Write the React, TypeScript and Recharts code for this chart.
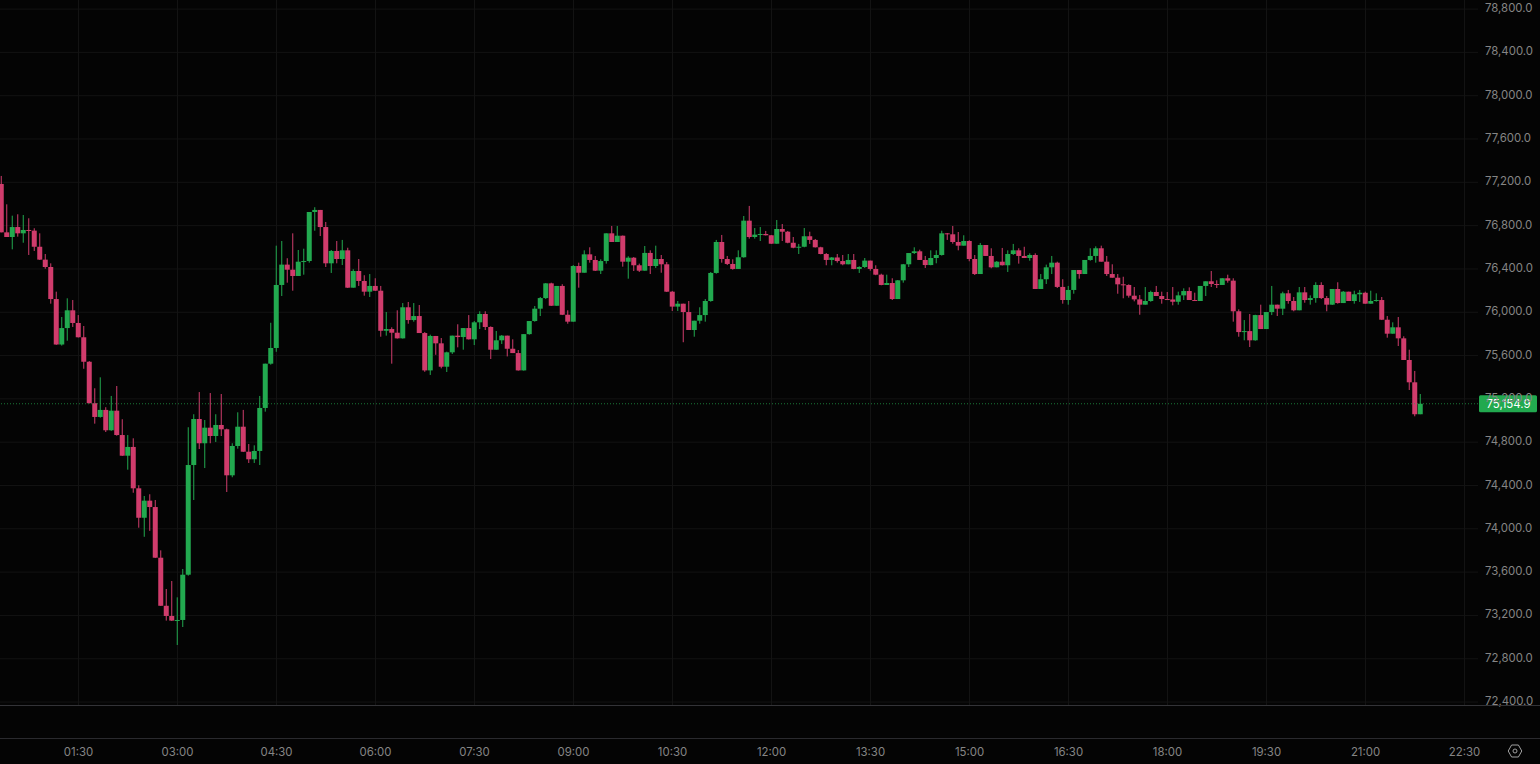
import React from 'react';
import { ComposedChart, Bar, XAxis, YAxis, CartesianGrid, ReferenceLine } from 'recharts';

const CHART_W = 1540;
const CHART_H = 764;
const UP = '#22a94f';
const DOWN = '#d03c6c';
const TEXT = '#858585';
const GRID = '#131313';
const FONT = 'Inter, "Noto Sans", sans-serif';

const firstOpen = 77185;
const startMinute = 20;
const barMinutes = 5;
const lastPrice = 75154.9;

const closes = [
  76738, 76695, 76787, 76729, 76760, 76754, 76605, 76486, 76418, 76122, 75702, 75854, 76018, 75901, 75769, 75543, 75160, 75033, 75098, 74910,
  75091, 74866, 74675, 74756, 74374, 74102, 74260, 74201, 73733, 73289, 73195, 73152, 73158, 73576, 74589, 75014, 74790, 74934, 74857, 74959,
  74919, 74494, 74765, 74943, 74712, 74642, 74719, 75116, 75525, 75670, 76252, 76440, 76393, 76335, 76467, 76473, 76926, 76945, 76787, 76452,
  76566, 76492, 76572, 76227, 76381, 76289, 76190, 76243, 76199, 75829, 75845, 75811, 75759, 76046, 75928, 75965, 75808, 75463, 75781, 75713,
  75497, 75630, 75784, 75771, 75854, 75750, 75907, 75984, 75864, 75654, 75741, 75784, 75663, 75623, 75463, 75798, 75919, 76033, 76131, 76267,
  76060, 76243, 75977, 75913, 76427, 76365, 76535, 76483, 76384, 76473, 76729, 76649, 76707, 76467, 76504, 76434, 76384, 76548, 76427, 76492,
  76443, 76190, 76052, 76079, 76002, 75836, 75922, 75974, 76104, 76363, 76649, 76492, 76446, 76400, 76508, 76846, 76695, 76717, 76723, 76711,
  76633, 76769, 76744, 76642, 76596, 76605, 76702, 76668, 76600, 76538, 76483, 76506, 76473, 76443, 76483, 76400, 76418, 76477, 76400, 76347,
  76252, 76270, 76122, 76295, 76443, 76547, 76563, 76483, 76436, 76501, 76529, 76729, 76720, 76649, 76615, 76658, 76492, 76353, 76621, 76520,
  76415, 76467, 76434, 76538, 76572, 76520, 76501, 76529, 76215, 76305, 76415, 76458, 76234, 76113, 76206, 76390, 76353, 76483, 76520, 76591,
  76467, 76353, 76319, 76258, 76252, 76153, 76119, 76070, 76104, 76187, 76150, 76122, 76118, 76097, 76156, 76196, 76113, 76104, 76243, 76286,
  76261, 76252, 76314, 76292, 76009, 75817, 75826, 75741, 75974, 75845, 76002, 76070, 76033, 76175, 76104, 76018, 76184, 76113, 76131, 76252,
  76131, 76070, 76215, 76085, 76190, 76104, 76166, 76180, 76079, 76104, 76113, 75931, 75802, 75861, 75759, 75559, 75353, 75058, 75154.9,
];

const highs = [
  77259, 76997, 76892, 76905, 76898, 76868, 76776, 76729, 76538, 76452, 76190, 75956, 76129, 76113, 75974, 75873, 75549, 75298, 75399, 75123,
  75227, 75319, 75012, 74866, 74836, 74402, 74303, 74319, 74266, 73801, 73444, 73518, 73367, 73629, 74938, 75058, 75263, 75005, 75254, 75058,
  75245, 74925, 74790, 75076, 75098, 74783, 74771, 75227, 75525, 75903, 76615, 76658, 76499, 76729, 76575, 76587, 76926, 76970, 76945, 76834,
  76575, 76658, 76668, 76596, 76397, 76492, 76342, 76353, 76314, 76243, 76002, 75861, 76018, 76085, 76095, 76085, 76067, 75817, 75793, 75781,
  75762, 75636, 75784, 75889, 75854, 75974, 75919, 76009, 76009, 75870, 75827, 75790, 75784, 75750, 75651, 75798, 75919, 76058, 76141, 76270,
  76273, 76243, 76259, 76018, 76436, 76458, 76572, 76600, 76520, 76489, 76729, 76797, 76797, 76709, 76517, 76510, 76449, 76612, 76572, 76615,
  76529, 76464, 76197, 76104, 76076, 76104, 75922, 76046, 76122, 76372, 76668, 76714, 76520, 76489, 76572, 76889, 76982, 76778, 76787, 76751,
  76714, 76852, 76815, 76751, 76695, 76631, 76778, 76744, 76677, 76605, 76547, 76510, 76538, 76529, 76538, 76538, 76425, 76501, 76477, 76434,
  76356, 76347, 76314, 76298, 76446, 76547, 76600, 76578, 76520, 76572, 76572, 76753, 76732, 76797, 76741, 76711, 76665, 76529, 76640, 76621,
  76591, 76473, 76594, 76572, 76631, 76591, 76605, 76544, 76544, 76353, 76440, 76520, 76467, 76305, 76243, 76390, 76390, 76483, 76591, 76609,
  76615, 76520, 76443, 76353, 76328, 76258, 76233, 76159, 76233, 76199, 76243, 76190, 76187, 76233, 76190, 76221, 76230, 76181, 76243, 76286,
  76381, 76295, 76314, 76347, 76314, 76027, 75928, 75984, 75977, 76070, 76002, 76243, 76070, 76190, 76206, 76141, 76233, 76233, 76156, 76277,
  76277, 76150, 76215, 76277, 76196, 76190, 76199, 76206, 76190, 76199, 76175, 76141, 75965, 75907, 75956, 75778, 75654, 75458, 75245,
];

const lows = [
  76738, 76695, 76581, 76698, 76642, 76529, 76566, 76483, 76402, 76079, 75699, 75692, 75737, 75864, 75767, 75478, 75158, 74971, 75026, 74894,
  74905, 74860, 74673, 74546, 74333, 74010, 73926, 73981, 73730, 73287, 73152, 73149, 72927, 73093, 73567, 74266, 74737, 74561, 74790, 74802,
  74857, 74340, 74476, 74740, 74709, 74608, 74608, 74589, 75082, 75516, 75635, 76150, 76273, 76199, 76335, 76347, 76458, 76753, 76704, 76418,
  76363, 76452, 76436, 76224, 76227, 76243, 76153, 76141, 76197, 75774, 75784, 75525, 75757, 75757, 75894, 75913, 75808, 75450, 75421, 75607,
  75482, 75448, 75615, 75676, 75654, 75748, 75697, 75845, 75836, 75568, 75654, 75707, 75592, 75623, 75461, 75461, 75793, 75913, 75965, 76122,
  76058, 76060, 75974, 75894, 75913, 76227, 76365, 76458, 76381, 76353, 76449, 76649, 76649, 76421, 76310, 76381, 76372, 76390, 76353, 76409,
  76365, 76187, 76012, 76012, 75723, 75836, 75774, 75894, 75913, 76097, 76356, 76458, 76436, 76393, 76400, 76504, 76680, 76680, 76658, 76709,
  76631, 76633, 76658, 76637, 76591, 76538, 76600, 76631, 76598, 76535, 76434, 76434, 76458, 76434, 76443, 76397, 76363, 76409, 76384, 76342,
  76249, 76252, 76113, 76122, 76273, 76418, 76538, 76483, 76409, 76434, 76452, 76523, 76668, 76633, 76572, 76615, 76471, 76344, 76353, 76520,
  76406, 76418, 76432, 76372, 76529, 76449, 76501, 76476, 76215, 76215, 76261, 76353, 76224, 76079, 76070, 76171, 76310, 76353, 76476, 76458,
  76467, 76335, 76319, 76171, 76129, 76135, 76101, 75977, 76070, 76097, 76150, 76079, 76118, 76064, 76070, 76113, 76113, 76104, 76104, 76150,
  76233, 76224, 76252, 76273, 75913, 75774, 75741, 75679, 75737, 75845, 75845, 75974, 75965, 75974, 76079, 76009, 76018, 76088, 76070, 76088,
  76122, 76009, 76067, 76079, 76085, 76104, 76079, 76095, 76079, 76079, 76097, 75928, 75765, 75802, 75688, 75559, 75282, 75039, 75058,
];

const priceTicks = [72400, 72800, 73200, 73600, 74000, 74400, 74800, 75200, 75600, 76000, 76400, 76800, 77200, 77600, 78000, 78400, 78800];
const timeTicks = [90, 180, 270, 360, 450, 540, 630, 720, 810, 900, 990, 1080, 1170, 1260, 1350];

const candles = closes.map((close, i) => ({
  minute: startMinute + i * barMinutes,
  open: i === 0 ? firstOpen : closes[i - 1],
  close,
  high: Math.max(highs[i], i === 0 ? firstOpen : closes[i - 1], close),
  low: Math.min(lows[i], i === 0 ? firstOpen : closes[i - 1], close),
}));

const formatTime = (m: number) => {
  const h = Math.floor(m / 60);
  return `${String(h).padStart(2, '0')}:${String(m % 60).padStart(2, '0')}`;
};

const formatPrice = (v: number) =>
  v.toLocaleString('en-US', { minimumFractionDigits: 1, maximumFractionDigits: 1 });

// the bar spans low..high, so its own pixel height gives the scale for the body
const Candle = (props: any) => {
  const { x, y, width, height, payload } = props;
  const { open, close, high, low } = payload;
  const color = close >= open ? UP : DOWN;
  const perValue = height / (high - low || 1);
  const bodyTop = y + (high - Math.max(open, close)) * perValue;
  const bodyH = Math.max(Math.abs(open - close) * perValue, 1);
  const cx = x + width / 2;
  return (
    <g>
      <line x1={cx} x2={cx} y1={y} y2={y + height} stroke={color} strokeWidth={1} />
      <rect x={x} y={bodyTop} width={width} height={bodyH} fill={color} />
    </g>
  );
};

const PriceTag = (props: any) => {
  const { viewBox } = props;
  const y = viewBox.y;
  return (
    <g>
      <rect x={1479} y={y - 8.5} width={58} height={17} rx={1.5} fill={UP} />
      <text x={1508.5} y={y + 4} textAnchor="middle" fontSize={11.4} fontFamily={FONT} fill="#ffffff">
        {formatPrice(lastPrice)}
      </text>
    </g>
  );
};

const App: React.FC = () => {
  return (
    <div style={{ position: 'absolute', left: 0, top: 0, width: CHART_W, height: CHART_H, background: '#040404', overflow: 'hidden' }}>
      <ComposedChart
        width={CHART_W}
        height={CHART_H}
        data={candles}
        margin={{ top: 0, right: 0, bottom: 0, left: 0 }}
      >
        <CartesianGrid stroke={GRID} strokeWidth={1} syncWithTicks />
        <XAxis
          dataKey="minute"
          type="number"
          scale="linear"
          domain={[18.636, 1362.27]}
          allowDataOverflow
          ticks={timeTicks}
          tickFormatter={formatTime}
          height={58.5}
          axisLine={false}
          tickLine={false}
          tickMargin={36}
          tick={{ fill: TEXT, fontSize: 11.4, fontFamily: FONT }}
        />
        <YAxis
          orientation="right"
          type="number"
          domain={[72368, 78884]}
          allowDataOverflow
          ticks={priceTicks}
          tickFormatter={formatPrice}
          width={62}
          axisLine={false}
          tickLine={false}
          tickMargin={1}
          interval={0}
          tick={{ fill: TEXT, fontSize: 11.4, fontFamily: FONT, dy: -1 }}
        />
        <ReferenceLine y={lastPrice} stroke={UP} strokeDasharray="1 2" strokeOpacity={0.7} label={<PriceTag />} />
        <Bar dataKey={(d: any) => [d.low, d.high]} barSize={5} shape={<Candle />} isAnimationActive={false} />
      </ComposedChart>
      <div style={{ position: 'absolute', left: 0, top: 705, width: CHART_W, height: 1, background: '#333337' }} />
      <div style={{ position: 'absolute', left: 0, top: 738, width: CHART_W, height: 1, background: '#2a2a2e' }} />
      <svg style={{ position: 'absolute', left: 1507, top: 743 }} width={16} height={16} viewBox="0 0 16 16">
        <path d="M4.6 2 L11.4 2 L14.8 8 L11.4 14 L4.6 14 L1.2 8 Z" fill="none" stroke="#a0a0a0" strokeWidth={1} />
        <circle cx={8} cy={8} r={2} fill="none" stroke="#a0a0a0" strokeWidth={1} />
      </svg>
    </div>
  );
};

export default App;
